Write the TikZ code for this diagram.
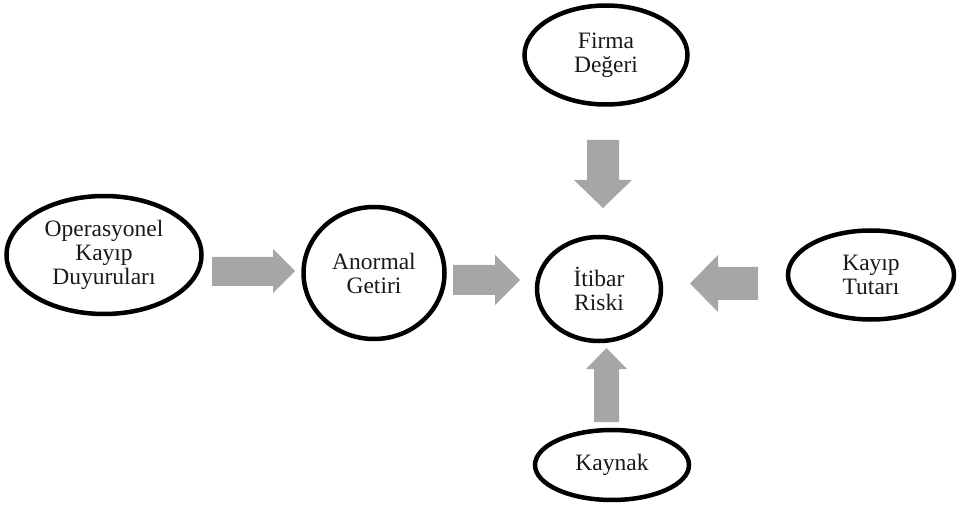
\documentclass[tikz,border=0pt]{standalone}
\usepackage{fontspec}
\setmainfont{Liberation Serif}
\usetikzlibrary{shapes.geometric}

\tikzset{
  oval/.style={ellipse, draw=black, line width=4.5pt, inner sep=0pt,
    align=center, text=black!90, font=\fontsize{23.5}{24}\selectfont},
  flow/.style={fill=black!35, draw=none}
}

\begin{document}
\begin{tikzpicture}[x=1pt, y=-1pt]
  \useasboundingbox (0,0) rectangle (959,505);

  % factors
  \node[oval, minimum width=163pt, minimum height=99pt]  (firma)  at (606,55)  {Firma\\Değeri};
  \node[oval, minimum width=195pt, minimum height=118pt] (opkayip) at (104,255) {Operasyonel\\Kayıp\\Duyuruları};
  \node[oval, minimum width=141pt, minimum height=132pt] (anormal) at (374,273) {Anormal\\Getiri};
  \node[oval, minimum width=124pt, minimum height=104pt] (itibar)  at (599,289) {İtibar\\Riski};
  \node[oval, minimum width=166pt, minimum height=89pt]  (tutar)   at (871,275) {Kayıp\\Tutarı};
  \node[oval, minimum width=154pt, minimum height=70pt]  (kaynak)  at (612,465) {Kaynak};

  % block arrows between the factors
  \fill[flow] (212,257) -- (273,257) -- (273,249) -- (295,271) -- (273,293) -- (273,286) -- (212,286) -- cycle;
  \fill[flow] (453,265) -- (495,265) -- (495,255) -- (520,280) -- (495,305) -- (495,295) -- (453,295) -- cycle;
  \fill[flow] (758,267) -- (718,267) -- (718,255) -- (690,283.5) -- (718,312) -- (718,300) -- (758,300) -- cycle;
  \fill[flow] (587,140) -- (587,180) -- (574,180) -- (603,208) -- (632,180) -- (619,180) -- (619,140) -- cycle;
  \fill[flow] (594,422) -- (594,369) -- (586,369) -- (606.5,348) -- (627,369) -- (619,369) -- (619,422) -- cycle;
\end{tikzpicture}
\end{document}
